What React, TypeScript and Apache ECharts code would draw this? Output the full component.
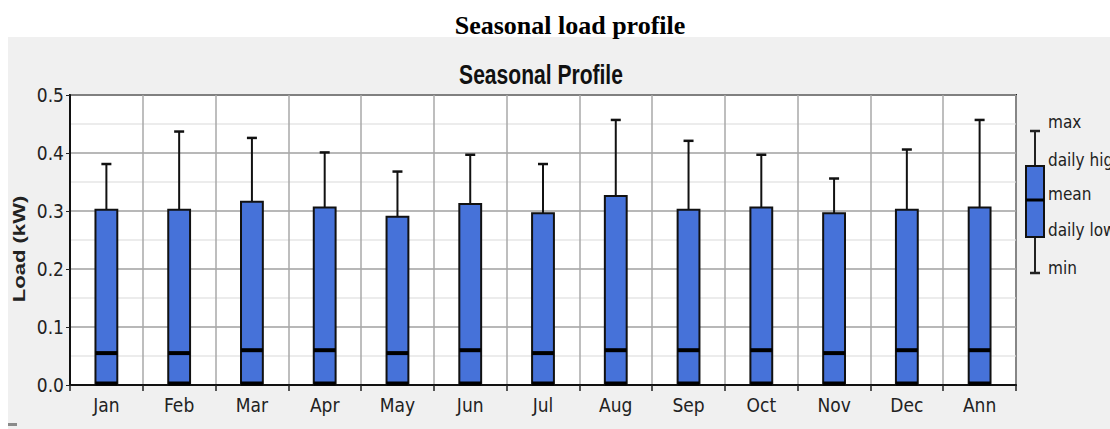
import React, { useEffect, useRef } from "react";
import * as echarts from "echarts";

const categories = ["Jan", "Feb", "Mar", "Apr", "May", "Jun", "Jul", "Aug", "Sep", "Oct", "Nov", "Dec", "Ann"];
const minValues = [0, 0, 0, 0, 0, 0, 0, 0, 0, 0, 0, 0, 0];
const dailyLow = [0, 0, 0, 0, 0, 0, 0, 0, 0, 0, 0, 0, 0];
const meanValues = [0.055, 0.055, 0.06, 0.06, 0.055, 0.06, 0.055, 0.06, 0.06, 0.06, 0.055, 0.06, 0.06];
const dailyHigh = [0.302, 0.302, 0.316, 0.306, 0.29, 0.312, 0.296, 0.326, 0.302, 0.306, 0.296, 0.302, 0.306];
const maxValues = [0.381, 0.437, 0.426, 0.401, 0.368, 0.397, 0.381, 0.457, 0.421, 0.397, 0.356, 0.406, 0.457];
const yTicks = [0, 0.1, 0.2, 0.3, 0.4, 0.5];
const legendLabels = ["max", "daily high", "mean", "daily low", "min"];

const BLUE = "#4672d9";
const COND = "'DejaVu Sans Condensed', 'Liberation Sans Narrow', 'Liberation Sans', Arial, sans-serif";
const SANS = "'Liberation Sans', Arial, sans-serif";

export default function App() {
  const ref = useRef<HTMLDivElement>(null);
  useEffect(() => {
    if (!ref.current) return;
    const chart = echarts.init(ref.current, undefined, { renderer: "svg" });
    const data = categories.map((_, i) => [i, minValues[i], dailyLow[i], meanValues[i], dailyHigh[i], maxValues[i]]);

    const renderItem = (params: any, api: any) => {
      const idx = api.value(0);
      const pMin = api.coord([idx, api.value(1)]);
      const pLow = api.coord([idx, api.value(2)]);
      const pMean = api.coord([idx, api.value(3)]);
      const pHigh = api.coord([idx, api.value(4)]);
      const pMax = api.coord([idx, api.value(5)]);
      const bw = api.size([1, 0])[0] * 0.3;
      const x = pLow[0];
      const capW = 5;
      return {
        type: "group",
        children: [
          { type: "line", shape: { x1: x, y1: pMax[1], x2: x, y2: pHigh[1] }, style: { stroke: "#111", lineWidth: 2 } },
          { type: "line", shape: { x1: x - capW, y1: pMax[1], x2: x + capW, y2: pMax[1] }, style: { stroke: "#111", lineWidth: 2.5 } },
          { type: "rect", shape: { x: x - bw / 2, y: pHigh[1], width: bw, height: pLow[1] - pHigh[1] }, style: { fill: BLUE, stroke: "#111", lineWidth: 2 } },
          { type: "line", shape: { x1: x - bw / 2, y1: pMean[1], x2: x + bw / 2, y2: pMean[1] }, style: { stroke: "#000", lineWidth: 4 } },
          { type: "line", shape: { x1: x - bw / 2, y1: pMin[1] - 1.5, x2: x + bw / 2, y2: pMin[1] - 1.5 }, style: { stroke: "#000", lineWidth: 4 } },
        ],
      };
    };

    const lx = 1035;
    const legendY = [122, 160, 194, 230, 268];
    const option: any = {
      animation: false,
      backgroundColor: "#ffffff",
      title: [
        {
          text: "Seasonal load profile",
          left: 565,
          textAlign: "center",
          top: 7,
          textStyle: { fontFamily: "'Liberation Serif', 'Times New Roman', serif", fontWeight: "bold", fontSize: 26, color: "#000" },
        },
      ],
      graphic: [
        { type: "rect", z: -10, silent: true, shape: { x: 8, y: 37, width: 1102, height: 392 }, style: { fill: "#f0f0f0" } },
        { type: "rect", z: -9, silent: true, shape: { x: 8, y: 423, width: 9, height: 3 }, style: { fill: "#8a8a8a" } },
        {
          type: "text",
          x: 541,
          y: 75,
          scaleX: 0.78,
          style: { text: "Seasonal Profile", fontFamily: SANS, fontWeight: "bold", fontSize: 27, fill: "#111", align: "center", verticalAlign: "middle" },
        },
        {
          type: "text",
          x: 20,
          y: 249,
          rotation: Math.PI / 2,
          scaleX: 1.38,
          style: { text: "Load (kW)", fontFamily: SANS, fontWeight: "bold", fontSize: 16, fill: "#222", align: "center", verticalAlign: "middle" },
        },
        { type: "line", shape: { x1: lx, y1: 131, x2: lx, y2: 273 }, style: { stroke: "#222", lineWidth: 2 } },
        { type: "line", shape: { x1: lx - 5, y1: 131, x2: lx + 5, y2: 131 }, style: { stroke: "#222", lineWidth: 2.5 } },
        { type: "line", shape: { x1: lx - 5, y1: 273, x2: lx + 5, y2: 273 }, style: { stroke: "#222", lineWidth: 2.5 } },
        { type: "rect", shape: { x: 1026, y: 166, width: 18, height: 71 }, style: { fill: BLUE, stroke: "#111", lineWidth: 2 } },
        { type: "line", shape: { x1: 1026, y1: 200, x2: 1044, y2: 200 }, style: { stroke: "#000", lineWidth: 3 } },
        ...legendLabels.map((t, i) => ({
          type: "text",
          x: 1048,
          y: legendY[i],
          style: { text: t, fontFamily: COND, fontSize: 17, fill: "#222", verticalAlign: "middle" },
        })),
      ],
      grid: {
        left: 70,
        right: 94,
        top: 95,
        bottom: 44,
        show: true,
        backgroundColor: "#ffffff",
        borderColor: "#222",
        borderWidth: 2,
      },
      xAxis: {
        type: "category",
        data: categories,
        boundaryGap: true,
        axisLine: { show: true, lineStyle: { color: "#111", width: 2 } },
        axisTick: { show: true, length: 6, lineStyle: { color: "#222", width: 1.5 } },
        axisLabel: { fontFamily: COND, fontSize: 19, color: "#222", margin: 10 },
        splitLine: { show: true, lineStyle: { color: "#a8a8a8", width: 1.5 } },
      },
      yAxis: {
        type: "value",
        min: 0,
        max: 0.5,
        interval: 0.1,
        axisLine: { show: true, lineStyle: { color: "#111", width: 2 } },
        axisTick: { show: true, length: 4, lineStyle: { color: "#222" } },
        axisLabel: {
          fontFamily: COND,
          fontSize: 19,
          color: "#222",
          margin: 6,
          formatter: (v: number) => (yTicks.some((t) => Math.abs(t - v) < 1e-9) ? v.toFixed(1) : ""),
        },
        splitLine: { show: true, lineStyle: { color: "#a0a0a0", width: 1.5 } },
        minorTick: { show: false, splitNumber: 2 },
        minorSplitLine: { show: true, lineStyle: { color: "#ececec", width: 2 } },
      },
      series: [
        {
          type: "custom",
          renderItem,
          data,
          encode: { x: 0, y: [1, 2, 3, 4, 5] },
          z: 10,
        },
      ],
    };
    chart.setOption(option);
    return () => chart.dispose();
  }, []);
  return <div ref={ref} style={{ position: "absolute", left: 0, top: 0, width: 1110, height: 429 }} />;
}
